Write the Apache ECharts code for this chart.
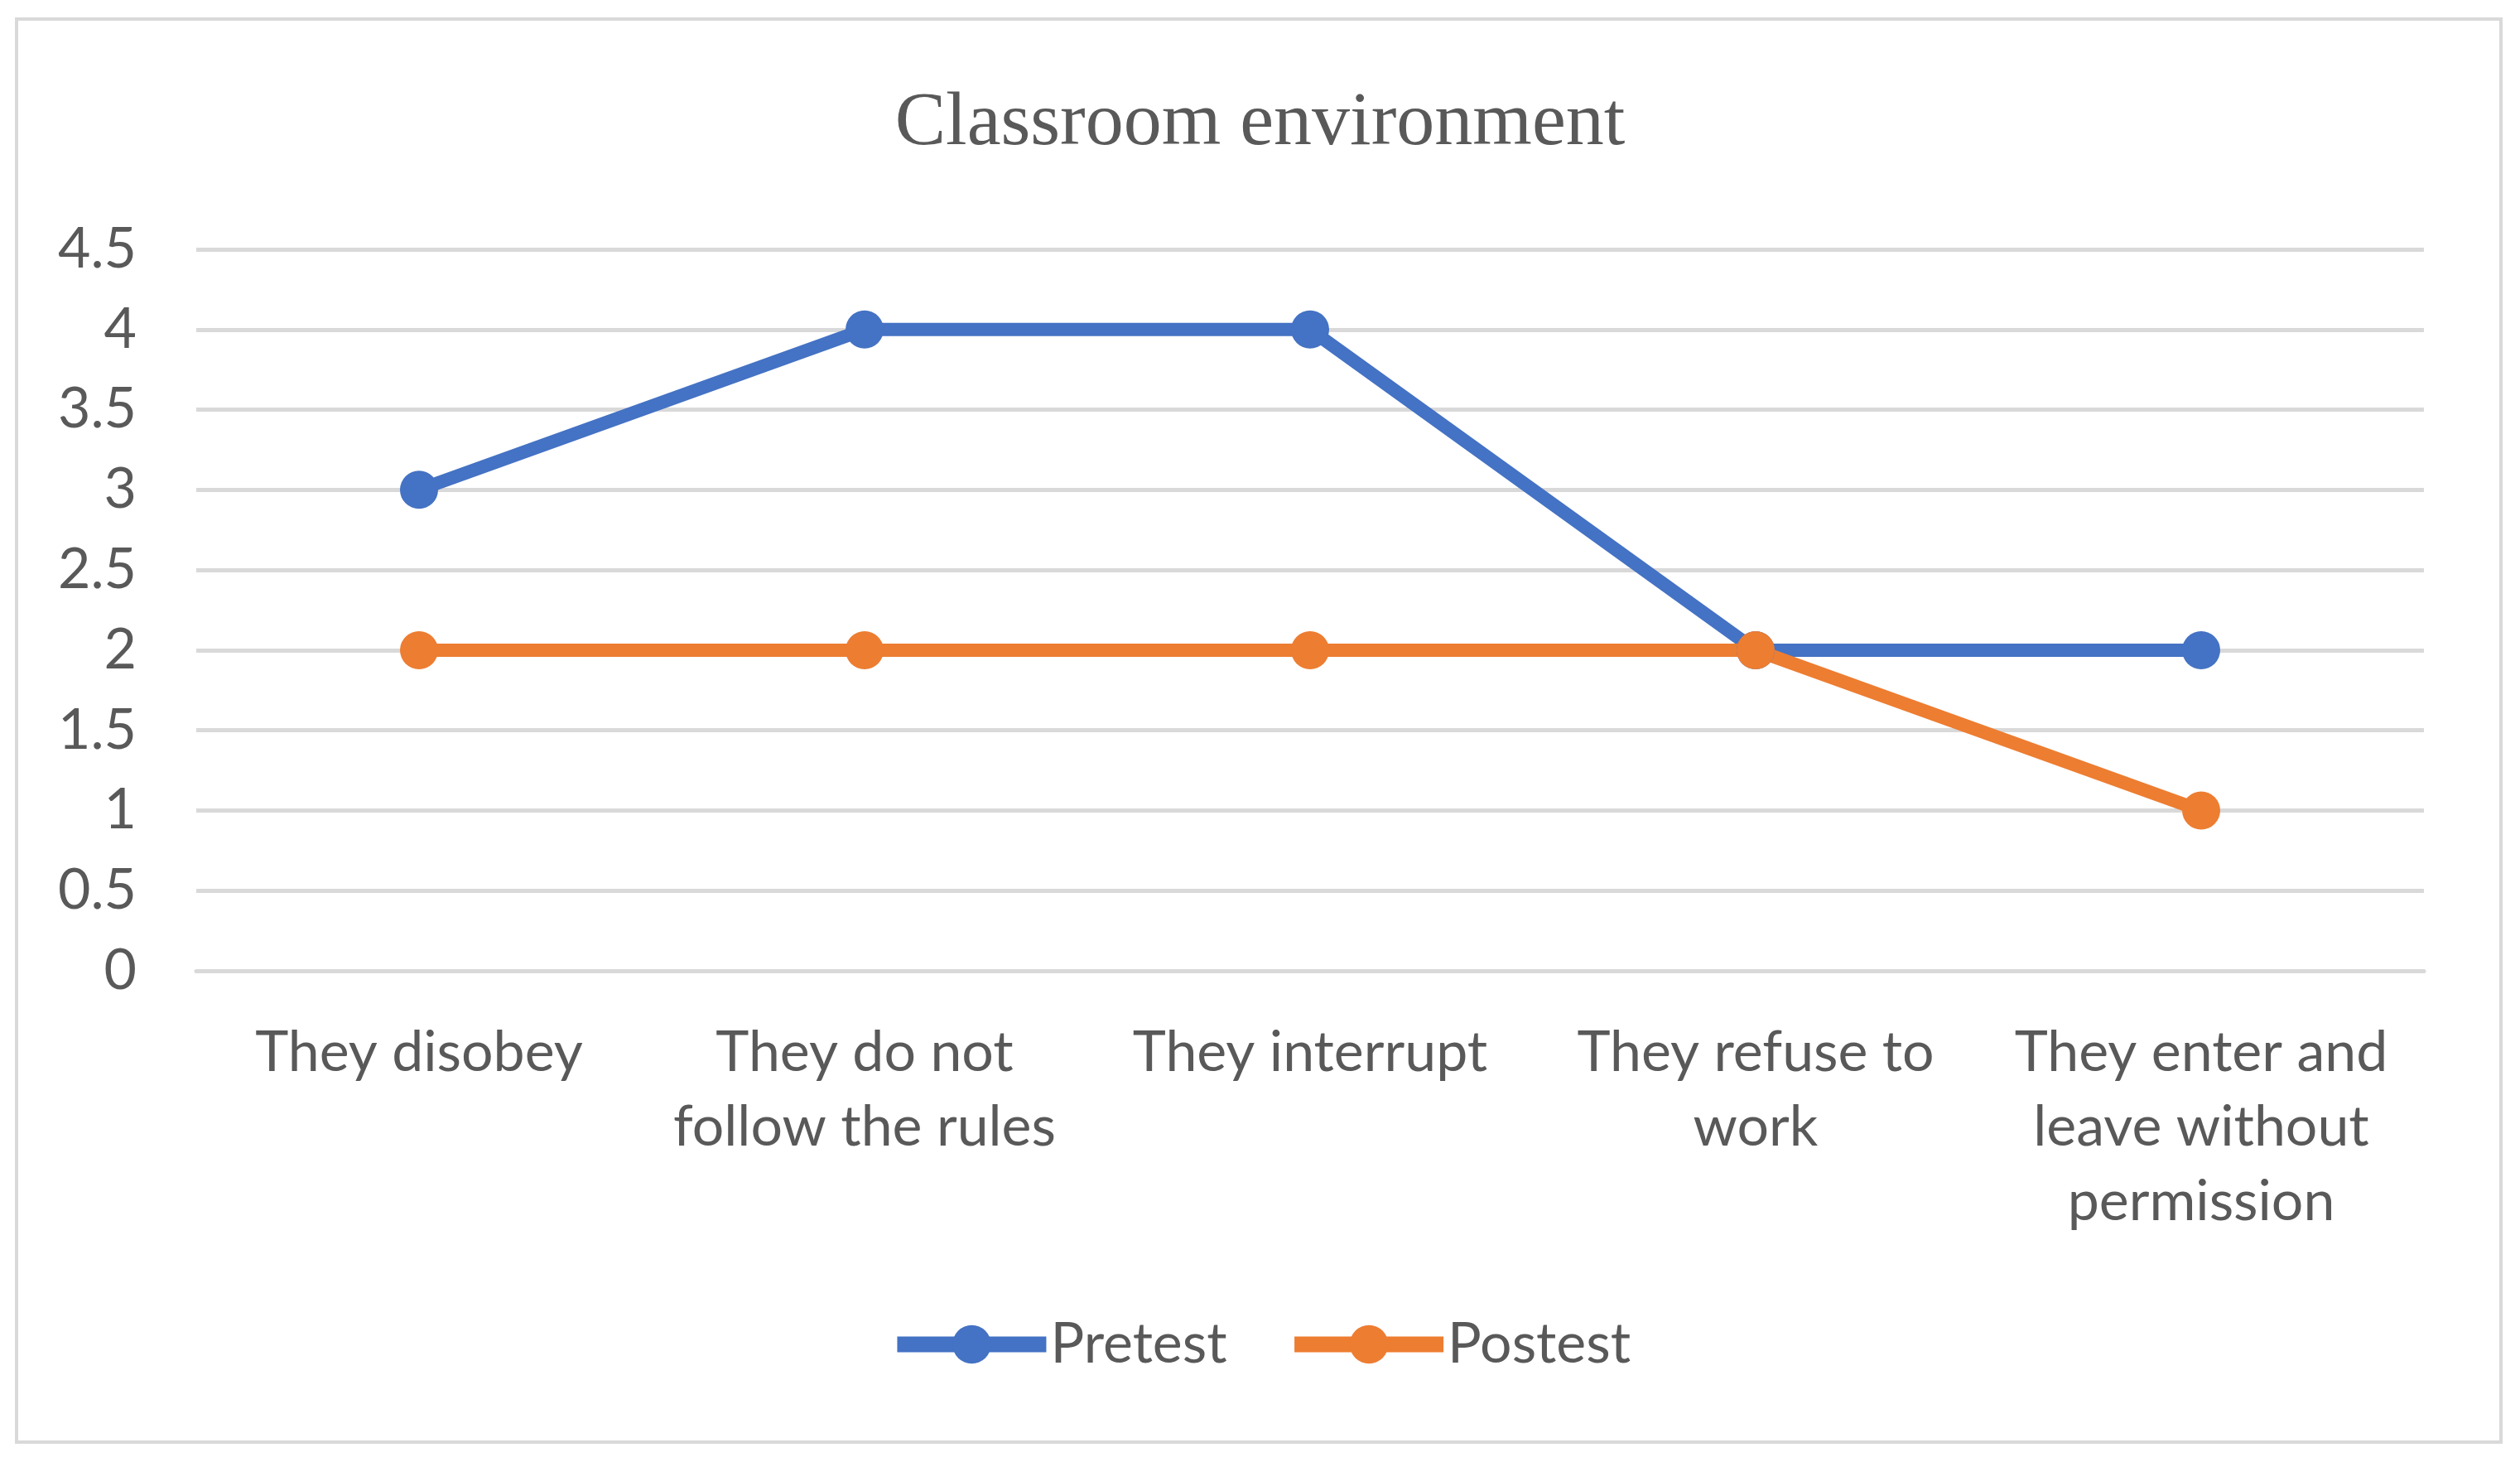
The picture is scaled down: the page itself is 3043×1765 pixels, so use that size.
<!DOCTYPE html>
<html>
<head>
<meta charset="utf-8">
<script src="https://cdn.jsdelivr.net/npm/echarts@6/dist/echarts.min.js"></script>
<style>
  html, body { margin:0; padding:0; background:#fff; }
  #chart     { width:3043px; height:1765px; }
</style>
</head>
<body>
<div id="chart"></div>
<script>
// data
const categories = [
  'They disobey',
  'They do not\nfollow the rules',
  'They interrupt',
  'They refuse to\nwork',
  'They enter and\nleave without\npermission'
]
const pretest  = [3, 4, 4, 2, 2]
const postest  = [2, 2, 2, 2, 1]
const seriesNames = ['Pretest', 'Postest']

const textColor = '#595959'
const gridColor = '#d9d9d9'
const sansFont  = 'Lato, "Open Sans", sans-serif'

const chart = echarts.init(document.getElementById('chart'))

chart.setOption({
  backgroundColor: '#fff',
  animation: false,
  title: {
    text: 'Classroom environment',
    left: 'center',
    top: 90,
    textStyle: {
      fontFamily: '"Liberation Serif", serif',
      fontWeight: 'normal',
      fontSize: 92,
      lineHeight: 110,
      color: textColor
    }
  },
  // outer frame
  graphic: [{
    type: 'rect',
    shape: { x: 20, y: 23, width: 3000, height: 1718 },
    style: { fill: 'none', stroke: gridColor, lineWidth: 4 },
    silent: true
  }],
  legend: {
    data: seriesNames,
    top: 1584,
    left: 'center',
    itemWidth: 180,
    itemHeight: 58,
    itemGap: 72,
    lineStyle: { width: 19 },
    textStyle: { fontFamily: sansFont, fontSize: 68, color: textColor }
  },
  grid: { left: 237, right: 116, top: 301, bottom: 593, containLabel: false },
  xAxis: {
    type: 'category',
    data: categories,
    boundaryGap: true,
    axisLine: { show: true, lineStyle: { color: gridColor, width: 5 } },
    axisTick: { show: false },
    axisLabel: {
      interval: 0,
      margin: 54,
      fontFamily: sansFont,
      fontSize: 68,
      lineHeight: 90,
      color: textColor
    }
  },
  yAxis: {
    type: 'value',
    min: 0,
    max: 4.5,
    interval: 0.5,
    axisLine: { show: false },
    axisTick: { show: false },
    splitLine: { lineStyle: { color: gridColor, width: 5 } },
    axisLabel: {
      margin: 72,
      fontFamily: sansFont,
      fontSize: 68,
      color: textColor
    }
  },
  series: [
    {
      name: seriesNames[0],
      type: 'line',
      data: pretest,
      symbol: 'circle',
      symbolSize: 46,
      itemStyle: { color: '#4472c4' },
      lineStyle: { color: '#4472c4', width: 16 }
    },
    {
      name: seriesNames[1],
      type: 'line',
      data: postest,
      symbol: 'circle',
      symbolSize: 46,
      itemStyle: { color: '#ed7d31' },
      lineStyle: { color: '#ed7d31', width: 16 }
    }
  ]
})
</script>
</body>
</html>
